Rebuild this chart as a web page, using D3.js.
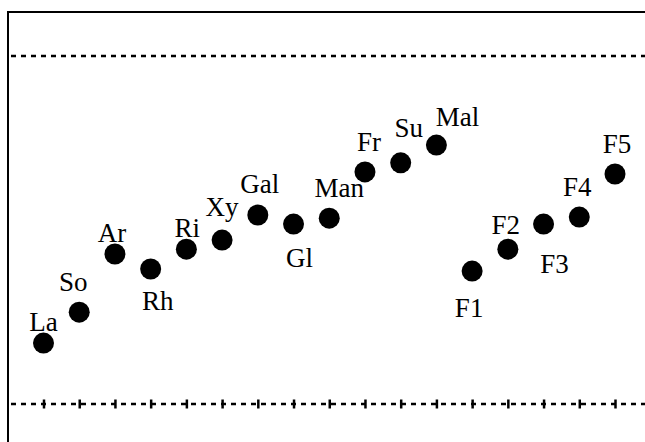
<!DOCTYPE html>
<html>
<head>
<meta charset="utf-8">
<script src="https://cdnjs.cloudflare.com/ajax/libs/d3/7.8.5/d3.min.js"></script>
<style>
  html, body { margin: 0; padding: 0; background: #fff; overflow: hidden; }
  svg { display: block; overflow: hidden; }
</style>
</head>
<body>
<div class="main"></div>
<script>
// categories (left to right)
var names = ["La", "So", "Ar", "Rh", "Ri", "Xy", "Gal", "Gl", "Man", "Fr", "Su", "Mal",
             "F1", "F2", "F3", "F4", "F5"];
// point values (0 = lower dashed line, 100 = upper dashed line)
var values = [17.5, 26.4, 43.1, 38.8, 44.5, 47.1, 54.3, 51.7, 53.4, 66.7, 69.3, 74.4,
              38.2, 44.5, 51.7, 53.7, 66.1];
// label nudges from the point centre, [dx, dy of baseline]
var labelOffsets = [[0,-12],[-6,-21],[-3,-12],[7,41],[1,-12],[0,-24],[2,-22],[6,43],[10,-21],
                    [4,-21],[8,-26],[21,-19],[-3,46],[-2,-15],[11,49],[-2,-21],[2,-21]];
var refLines = [0, 100];

var width = 645, height = 442;

var svg = d3.select("div.main").append("svg")
  .attr("width", width)
  .attr("height", height);

// frame: only top and left edges show, the rest runs off the page
svg.append("path")
  .attr("d", "M8," + height + "V12H" + width)
  .attr("fill", "none")
  .attr("stroke", "#000")
  .attr("stroke-width", 2);

var x = d3.scalePoint()
  .domain(names)
  .range([43.5, 615]);

var y = d3.scaleLinear()
  .domain([0, 100])
  .range([404, 56]);

// dashed reference lines
svg.selectAll("line.ref")
  .data(refLines)
  .enter().append("line")
  .attr("class", "ref")
  .attr("x1", 9)
  .attr("x2", width)
  .attr("y1", function(d) { return y(d); })
  .attr("y2", function(d) { return y(d); })
  .attr("stroke", "#000")
  .attr("stroke-width", 2.5)
  .attr("stroke-dasharray", "5,5")
  .attr("stroke-dashoffset", -2);

// tick marks on the lower line
var axis = d3.axisBottom(x).tickSize(9).tickFormat("");
var ax = svg.append("g")
  .attr("transform", "translate(0," + (y(0) - 4.5) + ")")
  .call(axis);
ax.select(".domain").remove();
ax.selectAll(".tick line").attr("stroke", "#000").attr("stroke-width", 2.5);

// points
svg.selectAll("circle.pt")
  .data(values)
  .enter().append("circle")
  .attr("class", "pt")
  .attr("cx", function(d, i) { return x(names[i]); })
  .attr("cy", function(d) { return y(d); })
  .attr("r", 10.5)
  .attr("fill", "#000");

// labels
svg.selectAll("text.lbl")
  .data(values)
  .enter().append("text")
  .attr("class", "lbl")
  .attr("text-anchor", "middle")
  .attr("font-family", "'Liberation Serif', 'Times New Roman', Times, serif")
  .attr("font-size", 27)
  .attr("fill", "#000")
  .attr("x", function(d, i) { return x(names[i]) + labelOffsets[i][0]; })
  .attr("y", function(d, i) { return y(d) + labelOffsets[i][1]; })
  .text(function(d, i) { return names[i]; });
</script>
</body>
</html>
